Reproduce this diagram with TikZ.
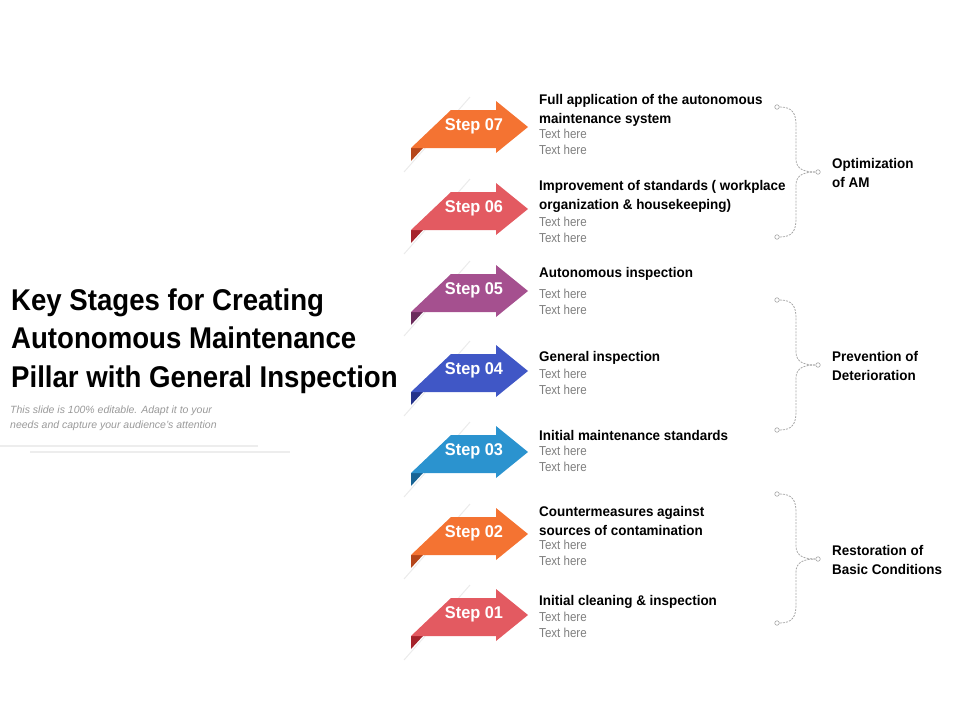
\documentclass[tikz,border=0pt]{standalone}
\usepackage{fontspec}
\usepackage{tikz}
\newfontfamily\narrowfont{Liberation Sans}[FakeStretch=0.96]
\newfontfamily\titlefont{Liberation Sans}[FakeStretch=0.92]
\newfontfamily\greyfont{Liberation Sans}[FakeStretch=0.89]
\newfontfamily\plainfont{Liberation Sans}
\definecolor{steporange}{HTML}{F47332}
\definecolor{steporangedk}{HTML}{B5461A}
\definecolor{stepred}{HTML}{E35A61}
\definecolor{stepreddk}{HTML}{A5232B}
\definecolor{steppurple}{HTML}{A5508F}
\definecolor{steppurpledk}{HTML}{6B2B5C}
\definecolor{stepblue}{HTML}{4057C6}
\definecolor{stepbluedk}{HTML}{25338A}
\definecolor{stepcyan}{HTML}{2B93CF}
\definecolor{stepcyandk}{HTML}{176394}
\definecolor{greytext}{HTML}{7F7F7F}
\tikzset{
    titlenode/.style={anchor=west,align=left,inner sep=0pt,font=\titlefont\bfseries\fontsize{30}{38.5}\selectfont},
    subnode/.style={anchor=west,align=left,inner sep=0pt,text=black!40,font=\plainfont\itshape\fontsize{10.5}{15}\selectfont},
    stepnode/.style={inner sep=0pt,text=white,font=\narrowfont\bfseries\fontsize{17}{17}\selectfont},
    headnode/.style={anchor=west,align=left,inner sep=0pt,font=\narrowfont\bfseries\fontsize{14}{19}\selectfont},
    textnode/.style={anchor=west,align=left,inner sep=0pt,text=greytext,font=\greyfont\fontsize{13}{16}\selectfont},
    groupnode/.style={anchor=west,align=left,inner sep=0pt,font=\narrowfont\bfseries\fontsize{14}{19}\selectfont},
    dotnode/.style={circle,draw=black!35,fill=white,inner sep=0pt,minimum size=4.5pt,line width=0.6pt},
    bracelink/.style={draw=black!35,dashed,dash pattern=on 2pt off 1.2pt,line width=0.8pt},
    rulefade/.style={draw=black!7,line width=1.2pt},
    pics/steparrow/.style 2 args={code={
        \draw[black!8,line width=1pt] (0,-30) -- (-66,45);
        \fill[#2] (-59,21) -- (-47,21) -- (-59,34) -- cycle;
        \fill[#1] (-19,-17) -- (26,-17) -- (26,-26) -- (58,0) -- (26,26) -- (26,21) -- (-59,21) -- cycle;
    }}
}

\begin{document}
\begin{tikzpicture}[x=1pt,y=-1pt]
\useasboundingbox (0,0) rectangle (960,720);

% title block
\node[titlenode] (title) at (11,341) {Key Stages for Creating\\Autonomous Maintenance\\Pillar with General Inspection};
\node[subnode] (sub) at (10,418) {This slide is 100\% editable. Adapt it to your\\needs and capture your audience’s attention};
\path[rulefade] (0,446) -- (258,446);
\path[rulefade] (30,452) -- (290,452);

% arrows
\pic at (470,127) {steparrow={steporange}{steporangedk}};
\pic at (470,209) {steparrow={stepred}{stepreddk}};
\pic at (470,291) {steparrow={steppurple}{steppurpledk}};
\pic at (470,371) {steparrow={stepblue}{stepbluedk}};
\pic at (470,452) {steparrow={stepcyan}{stepcyandk}};
\pic at (470,534) {steparrow={steporange}{steporangedk}};
\pic at (470,615) {steparrow={stepred}{stepreddk}};

\node[stepnode] (s7) at (474,126) {Step 07};
\node[stepnode] (s6) at (474,208) {Step 06};
\node[stepnode] (s5) at (474,290) {Step 05};
\node[stepnode] (s4) at (474,370) {Step 04};
\node[stepnode] (s3) at (474,451) {Step 03};
\node[stepnode] (s2) at (474,533) {Step 02};
\node[stepnode] (s1) at (474,614) {Step 01};

% step texts
\node[headnode] (h7) at (539,110.5) {Full application of the autonomous\\maintenance system};
\node[textnode] (t7) at (539,142) {Text here\\Text here};
\node[headnode] (h6) at (539,196.5) {Improvement of standards ( workplace\\organization \& housekeeping)};
\node[textnode] (t6) at (539,230) {Text here\\Text here};
\node[headnode] (h5) at (539,274) {Autonomous inspection};
\node[textnode] (t5) at (539,302) {Text here\\Text here};
\node[headnode] (h4) at (539,358) {General inspection};
\node[textnode] (t4) at (539,382) {Text here\\Text here};
\node[headnode] (h3) at (539,435) {Initial maintenance standards};
\node[textnode] (t3) at (539,459) {Text here\\Text here};
\node[headnode] (h2) at (539,520.5) {Countermeasures against\\sources of contamination};
\node[textnode] (t2) at (539,553) {Text here\\Text here};
\node[headnode] (h1) at (539,602) {Initial cleaning \& inspection};
\node[textnode] (t1) at (539,625) {Text here\\Text here};

% groups
\node[dotnode] (a1) at (777,107) {};
\node[dotnode] (b1) at (777,237) {};
\node[dotnode] (m1) at (818,172) {};
\node[groupnode] (g1) at (832,172.5) {Optimization\\of AM};
\node[dotnode] (a2) at (777,300) {};
\node[dotnode] (b2) at (777,430) {};
\node[dotnode] (m2) at (818,365) {};
\node[groupnode] (g2) at (832,365.5) {Prevention of\\Deterioration};
\node[dotnode] (a3) at (777,494) {};
\node[dotnode] (b3) at (777,623) {};
\node[dotnode] (m3) at (818,559) {};
\node[groupnode] (g3) at (832,559.5) {Restoration of\\Basic Conditions};

\path[bracelink] (a1) .. controls (792,107) and (796,113) .. (796,125) -- (796,159) .. controls (796,169) and (804,172) .. (m1);
\path[bracelink] (b1) .. controls (792,237) and (796,231) .. (796,219) -- (796,185) .. controls (796,175) and (804,172) .. (m1);
\path[bracelink] (a2) .. controls (792,300) and (796,306) .. (796,318) -- (796,352) .. controls (796,362) and (804,365) .. (m2);
\path[bracelink] (b2) .. controls (792,430) and (796,424) .. (796,412) -- (796,378) .. controls (796,368) and (804,365) .. (m2);
\path[bracelink] (a3) .. controls (792,494) and (796,500) .. (796,512) -- (796,546) .. controls (796,556) and (804,559) .. (m3);
\path[bracelink] (b3) .. controls (792,623) and (796,617) .. (796,605) -- (796,572) .. controls (796,562) and (804,559) .. (m3);

\end{tikzpicture}
\end{document}
